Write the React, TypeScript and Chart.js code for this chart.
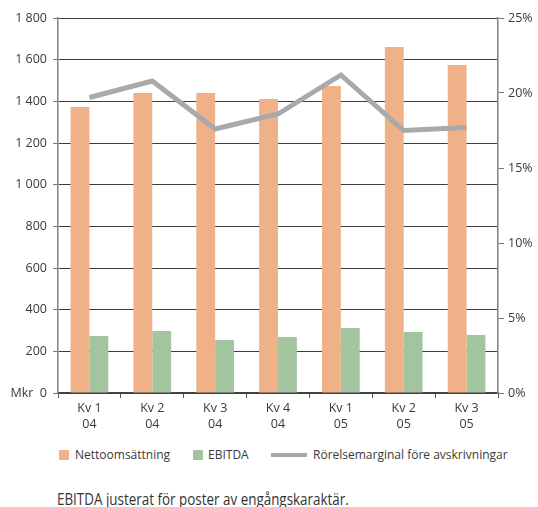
import React, { useEffect, useLayoutEffect, useRef, useState } from "react";
import { Chart, registerables } from "chart.js";

Chart.register(...registerables);

const categories: string[][] = [
  ["Kv 1", "04"],
  ["Kv 2", "04"],
  ["Kv 3", "04"],
  ["Kv 4", "04"],
  ["Kv 1", "05"],
  ["Kv 2", "05"],
  ["Kv 3", "05"],
];
const nettoomsattning = [1373, 1440, 1440, 1411, 1474, 1661, 1574];
const ebitda = [274, 298, 254, 269, 312, 293, 278];
const rorelsemarginal = [19.7, 20.8, 17.6, 18.6, 21.2, 17.5, 17.7];
const seriesNames = ["Nettoomsättning", "EBITDA", "Rörelsemarginal före avskrivningar"];
const footnote = "EBITDA justerat för poster av engångskaraktär.";

const ORANGE = "#EFB187";
const GREEN = "#A2C5A0";
const GREY = "#A8A9AB";
const TEXT = "#3a3a3a";
const FONT = "'Open Sans', 'Noto Sans', sans-serif";

function fmt(v: number): string {
  if (v === 0) return "Mkr  0";
  return String(v).replace(/\B(?=(\d{3})+(?!\d))/g, " ");
}

export default function App() {
  const ref = useRef<HTMLCanvasElement | null>(null);
  const noteRef = useRef<HTMLDivElement | null>(null);
  const [noteScale, setNoteScale] = useState(1);

  useLayoutEffect(() => {
    if (noteRef.current) {
      const w = noteRef.current.scrollWidth;
      if (w > 0) setNoteScale(292 / w);
    }
  }, []);

  useEffect(() => {
    if (!ref.current) return;
    const chart = new Chart(ref.current, {
      type: "bar",
      data: {
        labels: categories,
        datasets: [
          {
            type: "line",
            label: seriesNames[2],
            data: rorelsemarginal,
            yAxisID: "y2",
            borderColor: GREY,
            backgroundColor: GREY,
            borderWidth: 5,
            pointRadius: 0,
            tension: 0,
            order: 0,
          } as any,
          {
            label: seriesNames[0],
            data: nettoomsattning,
            backgroundColor: ORANGE,
            yAxisID: "y",
            order: 1,
            categoryPercentage: 0.6,
            barPercentage: 1.0,
          },
          {
            label: seriesNames[1],
            data: ebitda,
            backgroundColor: GREEN,
            yAxisID: "y",
            order: 1,
            categoryPercentage: 0.6,
            barPercentage: 1.0,
          },
        ],
      },
      options: {
        responsive: false,
        animation: false,
        layout: { padding: { top: 18, left: 0, right: 0, bottom: 0 } },
        plugins: {
          legend: { display: false },
          tooltip: { enabled: false },
        },
        scales: {
          x: {
            grid: {
              offset: true,
              drawOnChartArea: false,
              drawTicks: true,
              tickLength: 5,
              tickColor: "#555",
            },
            border: { color: "#444", width: 1.5 },
            ticks: {
              color: TEXT,
              font: { family: FONT, size: 12.5, lineHeight: 1.3 },
              padding: 2,
              maxRotation: 0,
            },
            afterFit: (s: any) => {
              s.height = 47;
            },
          },
          y: {
            position: "left",
            min: 0,
            max: 1800,
            ticks: {
              stepSize: 200,
              color: TEXT,
              font: { family: FONT, size: 12.5 },
              padding: 6,
              callback: (v: any) => fmt(Number(v)),
            },
            grid: {
              color: "#3c3c3c",
              lineWidth: 1,
              tickLength: 5,
              tickColor: "#777",
            },
            border: { color: "#808080", width: 1.5 },
            afterFit: (s: any) => {
              s.width = 58;
            },
          },
          y2: {
            position: "right",
            min: 0,
            max: 25,
            ticks: {
              stepSize: 5,
              color: TEXT,
              font: { family: FONT, size: 12.5 },
              padding: 4,
              callback: (v: any) => `${v}%`,
            },
            grid: {
              drawOnChartArea: false,
              tickLength: 6,
              tickColor: "#777",
            },
            border: { color: "#808080", width: 1.5 },
            afterFit: (s: any) => {
              s.width = 40;
            },
          },
        },
      },
    });
    return () => chart.destroy();
  }, []);

  const legendText: React.CSSProperties = {
    position: "absolute",
    top: 446,
    fontFamily: FONT,
    fontSize: 12,
    color: TEXT,
    lineHeight: "17px",
    whiteSpace: "nowrap",
  };

  return (
    <div style={{ position: "absolute", left: 0, top: 0, width: 538, height: 507, background: "#fff", overflow: "hidden" }}>
      <canvas ref={ref} width={538} height={440} style={{ position: "absolute", left: 0, top: 0 }} />
      <div style={{ position: "absolute", left: 59, top: 450, width: 10, height: 10, background: ORANGE }} />
      <div style={{ ...legendText, left: 75 }}>{seriesNames[0]}</div>
      <div style={{ position: "absolute", left: 193, top: 450, width: 10, height: 10, background: GREEN }} />
      <div style={{ ...legendText, left: 208 }}>{seriesNames[1]}</div>
      <div style={{ position: "absolute", left: 271, top: 453, width: 36, height: 4, background: GREY }} />
      <div style={{ ...legendText, left: 313 }}>{seriesNames[2]}</div>
      <div
        ref={noteRef}
        style={{
          position: "absolute",
          left: 57,
          top: 489,
          fontFamily: FONT,
          fontSize: 17,
          color: "#333",
          whiteSpace: "nowrap",
          lineHeight: "20px",
          transform: `scaleX(${noteScale})`,
          transformOrigin: "left top",
        }}
      >
        {footnote}
      </div>
    </div>
  );
}
